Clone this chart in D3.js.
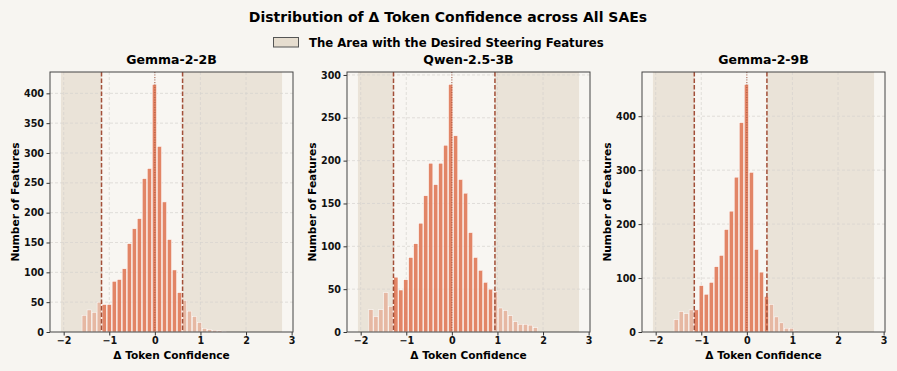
<!DOCTYPE html>
<html>
<head>
<meta charset="utf-8">
<script src="https://cdn.jsdelivr.net/npm/d3@7"></script>
<style>
  body { margin: 0; background: #f7f5f1; }
  svg { display: block; font-family: "DejaVu Sans", sans-serif; font-weight: bold; }
</style>
</head>
<body>
<svg width="897" height="371"></svg>
<script>
// panel names
var models = ["Gemma-2-2B", "Qwen-2.5-3B", "Gemma-2-9B"];

// histogram bins: centre of the first bin and bin width (delta token confidence)
var firstBin = [-1.55, -1.775, -1.55];
var binWidth = [0.11, 0.1093, 0.11];

// counts per bin
var countsGemma2b = [28, 37, 33, 50, 46, 46, 85, 88, 106, 148, 173, 190, 257, 274, 415,
                     311, 218, 155, 104, 66, 53, 35, 26, 16, 6, 4, 3, 2, 1];
var countsQwen3b = [26, 18, 26, 46, 30, 64, 49, 61, 87, 103, 127, 159, 197, 172, 197, 218, 289,
                    229, 178, 162, 116, 87, 72, 58, 50, 47, 28, 25, 19, 12, 9, 9, 8, 5];
var countsGemma9b = [23, 38, 34, 41, 41, 86, 70, 92, 121, 142, 190, 224, 287, 388, 459,
                     296, 153, 111, 66, 51, 28, 17, 7, 7, 2];

// thresholds of the desired-steering area
var lowCut = [-1.17, -1.28, -1.153];
var highCut = [0.608, 0.945, 0.44];
var areaEdges = [-2.06, 2.79];

var xTicks = [-2, -1, 0, 1, 2, 3];
var yTicks = [[0, 50, 100, 150, 200, 250, 300, 350, 400],
              [0, 50, 100, 150, 200, 250, 300],
              [0, 100, 200, 300, 400]];

var allCounts = [countsGemma2b, countsQwen3b, countsGemma9b];

var svg = d3.select("svg");
var barColor = "#e07b5a", areaColor = "#eae3d8", lineColor = "#a24f38";

svg.append("rect").attr("width", 897).attr("height", 371).attr("fill", "#f7f5f1");

svg.append("text")
    .attr("x", 448).attr("y", 22)
    .attr("text-anchor", "middle")
    .style("font-size", "14px")
    .text("Distribution of \u0394 Token Confidence across All SAEs");

// legend
svg.append("rect")
    .attr("x", 273.5).attr("y", 37.5).attr("width", 25).attr("height", 9.5)
    .attr("fill", "#e6ddcf").attr("stroke", "#555").attr("stroke-width", 1);
svg.append("text")
    .attr("x", 309).attr("y", 46.5)
    .style("font-size", "11.7px")
    .text("The Area with the Desired Steering Features");

var panelLeft = [50, 347, 642],
    panelWidth = 243,
    plotTop = 72, plotBottom = 332;

models.forEach(function(name, i) {
    var counts = allCounts[i];
    var bins = counts.map(function(c, k) {
        var mid = firstBin[i] + k * binWidth[i];
        return {mid: mid, count: c, inside: mid >= lowCut[i] && mid <= highCut[i]};
    });

    var h = plotBottom - plotTop;
    var x = d3.scaleLinear().domain([-2.3, 3.03]).range([0, panelWidth]);
    var y = d3.scaleLinear().domain([0, d3.max(counts) * 1.05]).range([h, 0]);

    var g = svg.append("g").attr("transform", "translate(" + panelLeft[i] + "," + plotTop + ")");

    g.append("rect").attr("width", panelWidth).attr("height", h).attr("fill", "#f8f6f2");

    // shaded areas outside the thresholds
    [[areaEdges[0], lowCut[i]], [highCut[i], areaEdges[1]]].forEach(function(s) {
        g.append("rect")
            .attr("x", x(s[0])).attr("width", x(s[1]) - x(s[0]))
            .attr("y", 0).attr("height", h)
            .attr("fill", areaColor);
    });

    // grid
    g.append("g").selectAll("line").data(xTicks.slice(0, -1)).enter().append("line")
        .attr("x1", function(d) { return x(d); }).attr("x2", function(d) { return x(d); })
        .attr("y1", 0).attr("y2", h)
        .attr("stroke", "#d6d3ce").attr("stroke-width", 0.7).attr("stroke-dasharray", "3,2");
    g.append("g").selectAll("line").data(yTicks[i].slice(1)).enter().append("line")
        .attr("y1", function(d) { return y(d); }).attr("y2", function(d) { return y(d); })
        .attr("x1", 0).attr("x2", panelWidth)
        .attr("stroke", "#d6d3ce").attr("stroke-width", 0.7).attr("stroke-dasharray", "3,2");

    // bars
    var bw = x(binWidth[i]) - x(0);
    g.selectAll(".bar").data(bins).enter().append("rect")
        .attr("class", "bar")
        .attr("x", function(d) { return x(d.mid) - bw * 0.85 / 2; })
        .attr("width", bw * 0.85)
        .attr("y", function(d) { return y(d.count); })
        .attr("height", function(d) { return y(0) - y(d.count); })
        .attr("fill", barColor)
        .attr("fill-opacity", function(d) { return d.inside ? 0.92 : 0.42; })
        .attr("stroke", "#fff").attr("stroke-width", 0.5);

    // zero line and thresholds
    g.append("line")
        .attr("x1", x(0)).attr("x2", x(0)).attr("y1", 0).attr("y2", h)
        .attr("stroke", lineColor).attr("stroke-width", 0.9).attr("stroke-dasharray", "1,1.5");
    [lowCut[i], highCut[i]].forEach(function(t) {
        g.append("line")
            .attr("x1", x(t)).attr("x2", x(t)).attr("y1", 0).attr("y2", h)
            .attr("stroke", lineColor).attr("stroke-width", 1.5).attr("stroke-dasharray", "4.5,2");
    });

    // axes
    var xAxis = g.append("g").attr("transform", "translate(0," + h + ")")
        .call(d3.axisBottom(x).tickValues(xTicks).tickSizeInner(3.5).tickSizeOuter(0).tickPadding(2)
            .tickFormat(function(d) { return d < 0 ? "\u2212" + Math.abs(d) : d; }));
    var yAxis = g.append("g")
        .call(d3.axisLeft(y).tickValues(yTicks[i]).tickSizeInner(3.5).tickSizeOuter(0).tickPadding(2.5));
    [xAxis, yAxis].forEach(function(a) {
        a.select(".domain").remove();
        a.selectAll("line").attr("stroke", "#333");
        a.selectAll("text").style("font-size", "9.6px").style("font-family", "DejaVu Sans")
            .style("font-weight", "bold").attr("fill", "#111");
    });

    // frame
    g.append("rect").attr("width", panelWidth).attr("height", h)
        .attr("fill", "none").attr("stroke", "#444").attr("stroke-width", 1);

    g.append("text")
        .attr("x", panelWidth / 2).attr("y", -8)
        .attr("text-anchor", "middle")
        .style("font-size", "12.5px")
        .text(name);

    g.append("text")
        .attr("x", panelWidth / 2).attr("y", h + 27)
        .attr("text-anchor", "middle")
        .style("font-size", "10.6px")
        .text("\u0394 Token Confidence");

    g.append("text")
        .attr("transform", "translate(-35," + h / 2 + ") rotate(-90)")
        .attr("dy", "0.35em")
        .attr("text-anchor", "middle")
        .style("font-size", "10.6px")
        .text("Number of Features");
});
</script>
</body>
</html>
